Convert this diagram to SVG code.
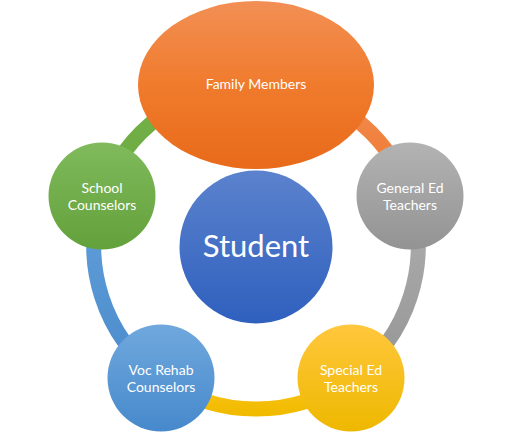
<svg xmlns="http://www.w3.org/2000/svg" width="512" height="432" viewBox="0 0 512 432">
<style>
.arc{fill:none;stroke-width:15}
.lbl{font-family:Lato,"Liberation Sans",sans-serif;font-size:14px;fill:#ffffff;text-anchor:middle}
.big{font-family:Lato,"Liberation Sans",sans-serif;font-size:31px;fill:#ffffff;text-anchor:middle}
</style>
<defs>
<linearGradient id="gOr" x1="0" y1="0" x2="0" y2="1"><stop offset="0" stop-color="#F28F55"/><stop offset="0.5" stop-color="#F07B2C"/><stop offset="1" stop-color="#E86A1A"/></linearGradient>
<linearGradient id="gGr" x1="0" y1="0" x2="0" y2="1"><stop offset="0" stop-color="#B3B3B3"/><stop offset="1" stop-color="#939393"/></linearGradient>
<linearGradient id="gYe" x1="0" y1="0" x2="0" y2="1"><stop offset="0" stop-color="#FFC73C"/><stop offset="1" stop-color="#EEB800"/></linearGradient>
<linearGradient id="gBl" x1="0" y1="0" x2="0" y2="1"><stop offset="0" stop-color="#70A8DD"/><stop offset="1" stop-color="#4689CC"/></linearGradient>
<linearGradient id="gGn" x1="0" y1="0" x2="0" y2="1"><stop offset="0" stop-color="#80BA5C"/><stop offset="1" stop-color="#63A13B"/></linearGradient>
<linearGradient id="gSt" x1="0" y1="0" x2="0" y2="1"><stop offset="0" stop-color="#5B82CD"/><stop offset="1" stop-color="#2F60BE"/></linearGradient>
<linearGradient id="aOr" gradientUnits="userSpaceOnUse" x1="0" y1="85" x2="0" y2="196"><stop offset="0" stop-color="#F28F55"/><stop offset="1" stop-color="#EE7428"/></linearGradient>
<linearGradient id="aGr" gradientUnits="userSpaceOnUse" x1="0" y1="196" x2="0" y2="378"><stop offset="0" stop-color="#AFAFAF"/><stop offset="1" stop-color="#959595"/></linearGradient>
<linearGradient id="aYe" gradientUnits="userSpaceOnUse" x1="0" y1="380" x2="0" y2="410"><stop offset="0" stop-color="#FFC420"/><stop offset="1" stop-color="#F1BC00"/></linearGradient>
<linearGradient id="aBl" gradientUnits="userSpaceOnUse" x1="0" y1="196" x2="0" y2="378"><stop offset="0" stop-color="#62A0DA"/><stop offset="1" stop-color="#4A8BCC"/></linearGradient>
<linearGradient id="aGn" gradientUnits="userSpaceOnUse" x1="0" y1="85" x2="0" y2="196"><stop offset="0" stop-color="#74B24A"/><stop offset="1" stop-color="#6CAA40"/></linearGradient>
</defs>
<g id="connectors">
<path class="arc" stroke="url(#aOr)" d="M256 85 A162 162 0 0 1 409.9 196.1"/>
<path class="arc" stroke="url(#aGr)" d="M409.9 196.1 A162 162 0 0 1 351.2 378.1"/>
<path class="arc" stroke="url(#aYe)" d="M351.2 378.1 A162 162 0 0 1 160.8 378.1"/>
<path class="arc" stroke="url(#aBl)" d="M160.8 378.1 A162 162 0 0 1 102.1 196.1"/>
<path class="arc" stroke="url(#aGn)" d="M102.1 196.1 A162 162 0 0 1 256 85"/>
</g>
<g id="family">
<ellipse cx="256" cy="85" rx="118" ry="84" fill="url(#gOr)"/>
<text class="lbl" x="256" y="89">Family Members</text>
</g>
<g id="general-ed">
<circle cx="410" cy="196" r="53.5" fill="url(#gGr)"/>
<text class="lbl" x="410" y="193">General Ed</text>
<text class="lbl" x="410" y="210">Teachers</text>
</g>
<g id="special-ed">
<circle cx="351" cy="378" r="53.5" fill="url(#gYe)"/>
<text class="lbl" x="351" y="375">Special Ed</text>
<text class="lbl" x="351" y="392">Teachers</text>
</g>
<g id="voc-rehab">
<circle cx="161" cy="378" r="53.5" fill="url(#gBl)"/>
<text class="lbl" x="161" y="375">Voc Rehab</text>
<text class="lbl" x="161" y="392">Counselors</text>
</g>
<g id="school">
<circle cx="102" cy="196" r="53.5" fill="url(#gGn)"/>
<text class="lbl" x="102" y="193">School</text>
<text class="lbl" x="102" y="210">Counselors</text>
</g>
<g id="student">
<circle cx="256" cy="247" r="76.5" fill="url(#gSt)"/>
<text class="big" x="256" y="257">Student</text>
</g>
</svg>
